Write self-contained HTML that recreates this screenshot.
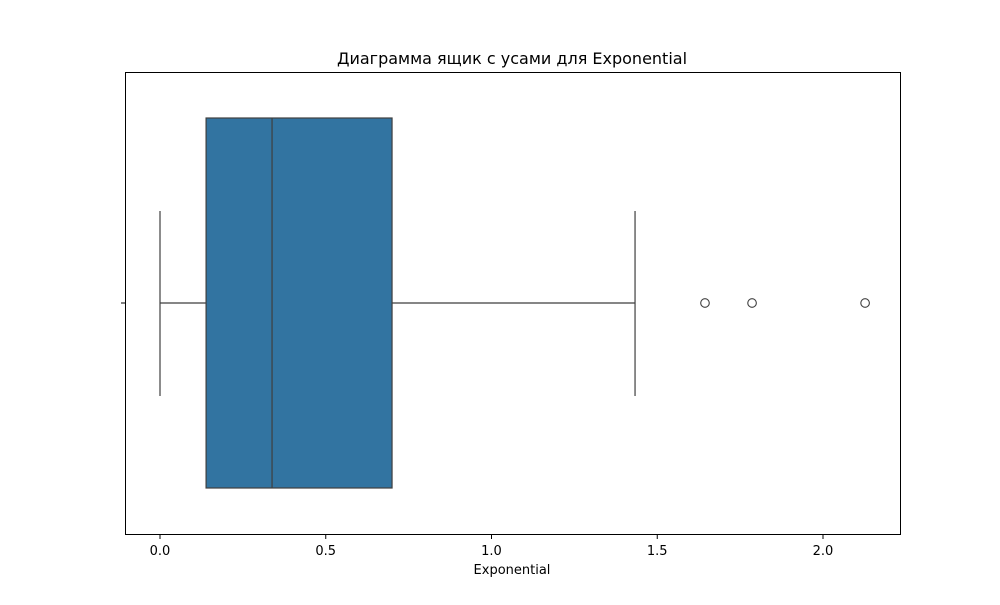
<!DOCTYPE html>
<html><head><meta charset="utf-8"><style>
body{margin:0;background:#fff;}
svg text{font-family:"DejaVu Sans","Liberation Sans",sans-serif;}
</style></head><body>
<svg id="chart" width="1000" height="600">
<rect x="0" y="0" width="1000" height="600" fill="#fff"/>
<text x="512" y="64" text-anchor="middle" font-size="16">Диаграмма ящик с усами для Exponential</text>
<g id="marks"></g>
<rect x="125.5" y="72.5" width="775" height="462" fill="none" stroke="#000" stroke-width="1"/>
<g id="axis"></g>
<text x="512" y="574" text-anchor="middle" font-size="13">Exponential</text>
</svg>
<script>
const ticks=[0,0.5,1.0,1.5,2.0];
const tickLabels=["0.0","0.5","1.0","1.5","2.0"];
const stats=[0.0,0.139,0.338,0.700,1.433]; // whiskerLow,q1,median,q3,whiskerHigh
const outliers=[1.644,1.786,2.127];
const ns="http://www.w3.org/2000/svg";
function xs(v){return 160+v*331.5;}
const yc=303, boxTop=118, boxBot=488, capTop=211, capBot=396;
function mk(tag,attrs,parent){const e=document.createElementNS(ns,tag);for(const k in attrs)e.setAttribute(k,attrs[k]);parent.appendChild(e);return e;}
const m=document.getElementById('marks'), ax=document.getElementById('axis');
const c="#3f3f3f";
let e;
e=mk('line',{x1:xs(stats[0]),x2:xs(stats[1]),y1:yc,y2:yc,stroke:c,'stroke-width':1.2},m);


e=mk('line',{x1:xs(stats[3]),x2:xs(stats[4]),y1:yc,y2:yc,stroke:c,'stroke-width':1.2},m);


e=mk('line',{x1:xs(stats[0]),x2:xs(stats[0]),y1:capTop,y2:capBot,stroke:c,'stroke-width':1.2},m);


e=mk('line',{x1:xs(stats[4]),x2:xs(stats[4]),y1:capTop,y2:capBot,stroke:c,'stroke-width':1.2},m);


e=mk('rect',{x:xs(stats[1]),y:boxTop,width:xs(stats[3])-xs(stats[1]),height:boxBot-boxTop,fill:'#3274a1',stroke:c,'stroke-width':1.2},m);


e=mk('line',{x1:xs(stats[2]),x2:xs(stats[2]),y1:boxTop,y2:boxBot,stroke:c,'stroke-width':1.2},m);


outliers.forEach(v=>{
 const o=mk('circle',{cx:xs(v),cy:yc,r:4.3,fill:'none',stroke:c,'stroke-width':1.1},m);
 
 
});
ticks.forEach((v,i)=>{
 const t=mk('line',{x1:xs(v),x2:xs(v),y1:534.5,y2:539,stroke:'#000'},ax);
 
 
 const l=mk('text',{x:xs(v),y:555,'text-anchor':'middle','font-size':13},ax);
 l.textContent=tickLabels[i];
 
 
});
e=mk('line',{x1:121,x2:125.5,y1:yc,y2:yc,stroke:'#000'},ax);


</script>
</body></html>
